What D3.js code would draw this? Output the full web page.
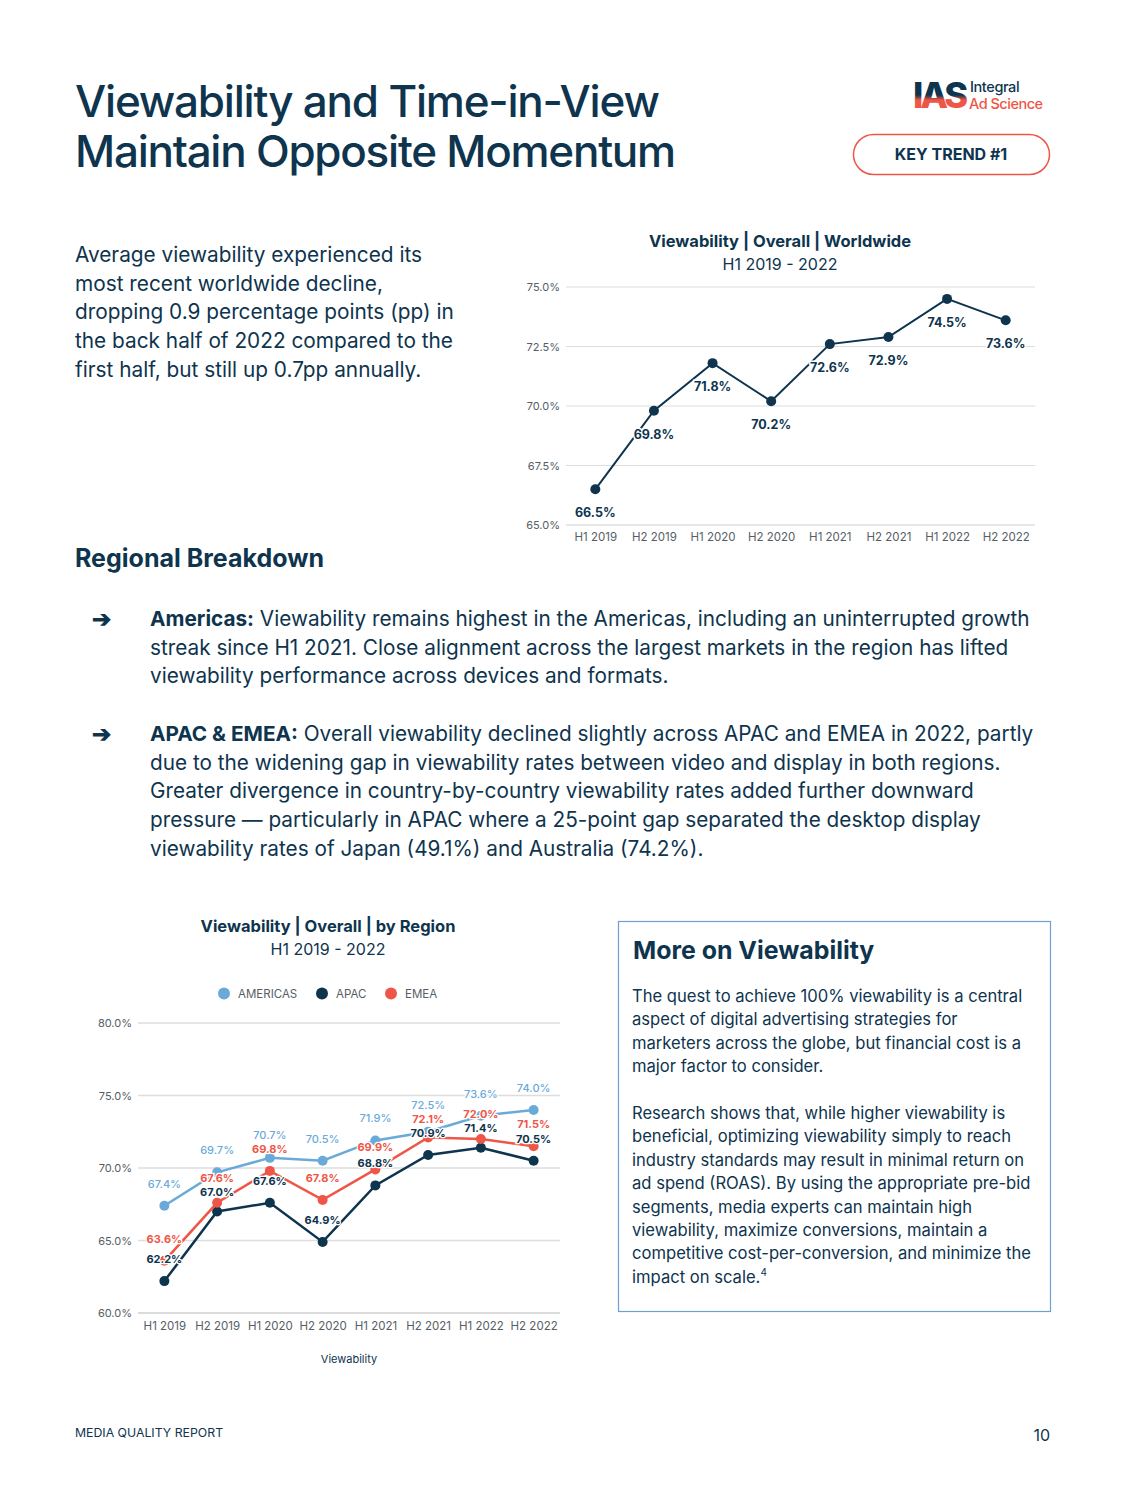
<!DOCTYPE html>
<html><head><meta charset="utf-8">
<script src="https://cdn.jsdelivr.net/npm/d3@7"></script>
<style>
html,body{margin:0;padding:0;background:#fff;}
svg{display:block;font-family:Inter,"Noto Sans",sans-serif;}
</style></head>
<body>
<svg id="page" width="1125" height="1500"></svg>
<script>
// ---- data ----
const periods = ["H1 2019","H2 2019","H1 2020","H2 2020","H1 2021","H2 2021","H1 2022","H2 2022"];
const worldwide = [66.5, 69.8, 71.8, 70.2, 72.6, 72.9, 74.5, 73.6];
const worldTicks = [65, 67.5, 70, 72.5, 75];
const americas = [67.4, 69.7, 70.7, 70.5, 71.9, 72.5, 73.6, 74.0];
const apac     = [62.2, 67.0, 67.6, 64.9, 68.8, 70.9, 71.4, 70.5];
const emea     = [63.6, 67.6, 69.8, 67.8, 69.9, 72.1, 72.0, 71.5];
const regionNames = ["AMERICAS","APAC","EMEA"];
const regionTicks = [60, 65, 70, 75, 80];

const NAVY = "#0e344e", RED = "#ef5647", BLUE = "#6aaad9", GRID = "#dddddd", AXIS = "#555e66";
const fmt = v => v.toFixed(1) + "%";

const svg = d3.select("#page");

// ---- header ----
svg.append("text").attr("x",75).attr("y",117).attr("font-size",44).attr("fill",NAVY)
  .attr("font-weight",500).attr("letter-spacing",-1.2).text("Viewability and Time-in-View");
svg.append("text").attr("x",75).attr("y",167).attr("font-size",44).attr("fill",NAVY)
  .attr("font-weight",500).attr("letter-spacing",-1.25).text("Maintain Opposite Momentum");

// logo
const defs = svg.append("defs");
const lg = defs.append("linearGradient").attr("id","iasg").attr("x1",0).attr("y1",0).attr("x2",0).attr("y2",1);
lg.append("stop").attr("offset","0%").attr("stop-color",NAVY);
lg.append("stop").attr("offset","50%").attr("stop-color",NAVY);
lg.append("stop").attr("offset","62%").attr("stop-color",RED);
lg.append("stop").attr("offset","100%").attr("stop-color",RED);
svg.append("text").attr("x",913).attr("y",108).attr("font-size",35).attr("font-weight",800)
  .attr("letter-spacing",-3).attr("textLength",52).attr("lengthAdjust","spacingAndGlyphs")
  .attr("fill","url(#iasg)").text("IAS");
svg.append("text").attr("x",970).attr("y",92).attr("font-size",14.5).attr("font-weight",500)
  .attr("letter-spacing",-0.4).attr("fill",NAVY).text("Integral");
svg.append("text").attr("x",969).attr("y",108.5).attr("font-size",14.5).attr("font-weight",500)
  .attr("letter-spacing",-0.5).attr("fill",RED).text("Ad Science");

svg.append("rect").attr("x",853.5).attr("y",134.5).attr("width",196).attr("height",40).attr("rx",20)
  .attr("fill","none").attr("stroke",RED).attr("stroke-width",1.5);
svg.append("text").attr("x",951).attr("y",160).attr("text-anchor","middle").attr("font-size",16)
  .attr("font-weight",700).attr("fill",NAVY).text("KEY TREND #1");

// intro paragraph
const intro = ["Average viewability experienced its","most recent worldwide decline,",
  "dropping 0.9 percentage points (pp) in","the back half of 2022 compared to the",
  "first half, but still up 0.7pp annually."];
svg.append("g").selectAll("text").data(intro).join("text")
  .attr("x",75).attr("y",(d,i)=>262+i*28.7).attr("font-size",20.8).attr("fill",NAVY).text(d=>d);

svg.append("text").attr("x",75).attr("y",567).attr("font-size",25).attr("font-weight",700)
  .attr("fill",NAVY).text("Regional Breakdown");

// bullets
const bullets = [
  {y:626, head:"Americas:", lines:[" Viewability remains highest in the Americas, including an uninterrupted growth",
    "streak since H1 2021. Close alignment across the largest markets in the region has lifted",
    "viewability performance across devices and formats."]},
  {y:741, head:"APAC & EMEA:", lines:[" Overall viewability declined slightly across APAC and EMEA in 2022, partly",
    "due to the widening gap in viewability rates between video and display in both regions.",
    "Greater divergence in country-by-country viewability rates added further downward",
    "pressure \u2014 particularly in APAC where a 25-point gap separated the desktop display",
    "viewability rates of Japan (49.1%) and Australia (74.2%)."]}
];
bullets.forEach(b=>{
  svg.append("text").attr("x",92).attr("y",b.y+1).attr("font-size",23).attr("font-weight",800)
    .attr("fill",NAVY).text("\u2794");
  b.lines.forEach((l,i)=>{
    const t = svg.append("text").attr("x",150).attr("y",b.y+i*28.7).attr("font-size",20.75).attr("fill",NAVY);
    if(i===0){ t.append("tspan").attr("font-weight",700).text(b.head); }
    t.append("tspan").text(l);
  });
});

// ---- worldwide chart ----
const wx = d3.scalePoint().domain(periods).range([566,1035]).padding(0.5);
const wy = d3.scaleLinear().domain([65,75]).range([525,287]);
const wg = svg.append("g");
wg.append("text").attr("x",780).attr("y",247).attr("text-anchor","middle").attr("font-size",16.5)
  .attr("font-weight",700).attr("fill",NAVY).text("Viewability | Overall | Worldwide");
wg.append("text").attr("x",780).attr("y",270).attr("text-anchor","middle").attr("font-size",16)
  .attr("fill",NAVY).text("H1 2019 - 2022");
wg.append("g").selectAll("line").data(worldTicks).join("line")
  .attr("x1",566).attr("x2",1035).attr("y1",d=>wy(d)).attr("y2",d=>wy(d))
  .attr("stroke",d=>d===65?"#cfcfcf":GRID).attr("stroke-width",1);
const wya = d3.axisLeft(wy).tickValues(worldTicks).tickFormat(fmt).tickSize(0).tickPadding(6);
wg.append("g").attr("transform","translate(566,0)").call(wya)
  .call(g=>g.select(".domain").remove())
  .selectAll("text").attr("font-size",11).attr("fill",AXIS).attr("font-family","Inter,sans-serif");
const wxa = d3.axisBottom(wx).tickSize(0).tickPadding(8);
wg.append("g").attr("transform","translate(0,525)").call(wxa)
  .call(g=>g.select(".domain").remove())
  .selectAll("text").attr("font-size",11.5).attr("fill",AXIS).attr("font-family","Inter,sans-serif");
wg.append("path").datum(worldwide).attr("fill","none").attr("stroke",NAVY).attr("stroke-width",2)
  .attr("d",d3.line().x((d,i)=>wx(periods[i])).y(d=>wy(d)));
wg.append("g").selectAll("circle").data(worldwide).join("circle")
  .attr("cx",(d,i)=>wx(periods[i])).attr("cy",d=>wy(d)).attr("r",5).attr("fill",NAVY);
wg.append("g").selectAll("text").data(worldwide).join("text")
  .attr("x",(d,i)=>wx(periods[i])).attr("y",d=>wy(d)+28).attr("text-anchor","middle")
  .attr("font-size",12.5).attr("font-weight",700).attr("fill",NAVY)
  .attr("stroke","#fff").attr("stroke-width",3).attr("paint-order","stroke").text(fmt);

// ---- regional chart ----
const rx = d3.scalePoint().domain(periods).range([138,560]).padding(0.5);
const ry = d3.scaleLinear().domain([60,80]).range([1313,1023]);
const rg = svg.append("g");
rg.append("text").attr("x",328).attr("y",932).attr("text-anchor","middle").attr("font-size",16.5)
  .attr("font-weight",700).attr("fill",NAVY).text("Viewability | Overall | by Region");
rg.append("text").attr("x",328).attr("y",955).attr("text-anchor","middle").attr("font-size",16)
  .attr("fill",NAVY).text("H1 2019 - 2022");
const series = [
  {name:regionNames[0], vals:americas, color:BLUE, weight:500},
  {name:regionNames[1], vals:apac, color:NAVY, weight:700},
  {name:regionNames[2], vals:emea, color:RED, weight:700}
];
const legX = [224, 322, 391];
series.forEach((s,i)=>{
  rg.append("circle").attr("cx",legX[i]).attr("cy",993.5).attr("r",6).attr("fill",s.color);
  rg.append("text").attr("x",legX[i]+14).attr("y",997.5).attr("font-size",11.5).attr("fill",AXIS).text(s.name);
});
rg.append("g").selectAll("line").data(regionTicks).join("line")
  .attr("x1",138).attr("x2",560).attr("y1",d=>ry(d)).attr("y2",d=>ry(d))
  .attr("stroke",d=>d===60?"#cfcfcf":GRID).attr("stroke-width",1.5);
const rya = d3.axisLeft(ry).tickValues(regionTicks).tickFormat(fmt).tickSize(0).tickPadding(6);
rg.append("g").attr("transform","translate(138,0)").call(rya)
  .call(g=>g.select(".domain").remove())
  .selectAll("text").attr("font-size",11).attr("fill",AXIS).attr("font-family","Inter,sans-serif");
const rxa = d3.axisBottom(rx).tickSize(0).tickPadding(9);
rg.append("g").attr("transform","translate(0,1313)").call(rxa)
  .call(g=>g.select(".domain").remove())
  .selectAll("text").attr("font-size",11.5).attr("fill",AXIS).attr("font-family","Inter,sans-serif");
rg.append("text").attr("x",349).attr("y",1363).attr("text-anchor","middle").attr("font-size",11)
  .attr("fill",NAVY).text("Viewability");
const rline = d3.line().x((d,i)=>rx(periods[i])).y(d=>ry(d));
series.forEach(s=>{
  rg.append("path").datum(s.vals).attr("fill","none").attr("stroke",s.color).attr("stroke-width",2.5).attr("d",rline);
  rg.append("g").selectAll("circle").data(s.vals).join("circle")
    .attr("cx",(d,i)=>rx(periods[i])).attr("cy",d=>ry(d)).attr("r",5).attr("fill",s.color);
});
// label placement: above each point, then relaxed so labels at the same period don't collide
const labels = [];
series.forEach(s=>s.vals.forEach((v,i)=>labels.push({s, v, i, y: ry(v)-22})));
const MIN_GAP = 14;
for(let iter=0; iter<30; iter++){
  periods.forEach((p,i)=>{
    const grp = labels.filter(l=>l.i===i).sort((a,b)=>a.y-b.y);
    for(let k=1;k<grp.length;k++){
      const gap = grp[k].y - grp[k-1].y;
      if(gap < MIN_GAP){ const push=(MIN_GAP-gap)/2; grp[k-1].y-=push; grp[k].y+=push; }
    }
  });
}
rg.append("g").selectAll("text").data(labels).join("text")
  .attr("x",d=>rx(periods[d.i])).attr("y",d=>d.y+4).attr("text-anchor","middle")
  .attr("font-size",11).attr("font-weight",d=>d.s.weight).attr("fill",d=>d.s.color)
  .attr("stroke","#fff").attr("stroke-width",2.5).attr("paint-order","stroke").text(d=>fmt(d.v));

// ---- side box ----
svg.append("rect").attr("x",618.5).attr("y",921.5).attr("width",432).attr("height",390)
  .attr("fill","none").attr("stroke","#6f9fcf").attr("stroke-width",1.2);
svg.append("text").attr("x",633).attr("y",959).attr("font-size",24.9).attr("font-weight",700)
  .attr("fill",NAVY).text("More on Viewability");
const box1 = ["The quest to achieve 100% viewability is a central","aspect of digital advertising strategies for",
  "marketers across the globe, but financial cost is a","major factor to consider."];
const box2 = ["Research shows that, while higher viewability is","beneficial, optimizing viewability simply to reach",
  "industry standards may result in minimal return on","ad spend (ROAS). By using the appropriate pre-bid",
  "segments, media experts can maintain high","viewability, maximize conversions, maintain a",
  "competitive cost-per-conversion, and minimize the","impact on scale."];
svg.append("g").selectAll("text").data(box1).join("text")
  .attr("x",632).attr("y",(d,i)=>1002+i*23.4).attr("font-size",16.6).attr("fill",NAVY).text(d=>d);
const b2 = svg.append("g").selectAll("text").data(box2).join("text")
  .attr("x",632).attr("y",(d,i)=>1119+i*23.4).attr("font-size",16.6).attr("fill",NAVY).text(d=>d);
b2.filter((d,i)=>i===box2.length-1).append("tspan").attr("font-size",10).attr("dy",-7).text("4");

// ---- footer ----
svg.append("text").attr("x",75).attr("y",1437).attr("font-size",12.3).attr("fill",NAVY).text("MEDIA QUALITY REPORT");
svg.append("text").attr("x",1050).attr("y",1441).attr("text-anchor","end").attr("font-size",16).attr("fill",NAVY).text("10");
</script>
</body></html>
